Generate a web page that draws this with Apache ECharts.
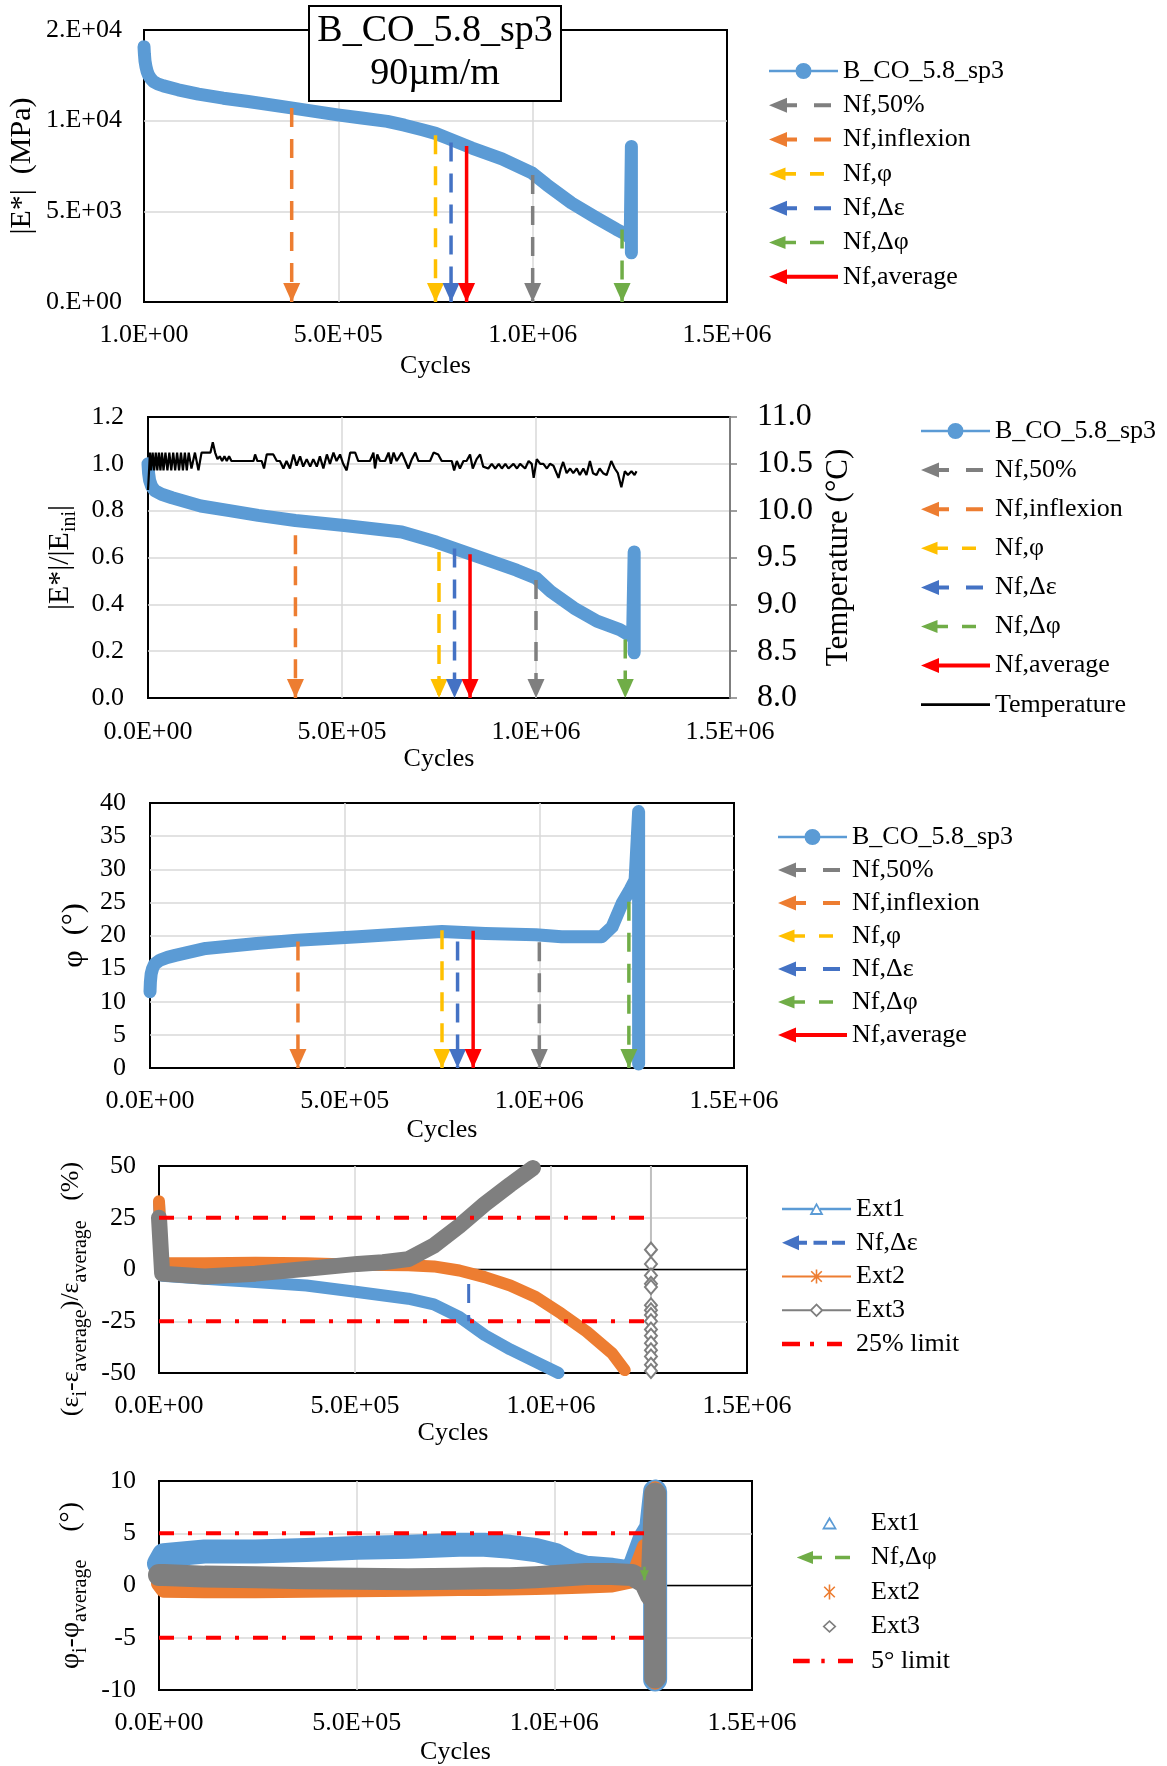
<!DOCTYPE html>
<html><head><meta charset="utf-8">
<script src="https://cdn.jsdelivr.net/npm/echarts@6/dist/echarts.min.js"></script>
<style>html,body{margin:0;padding:0;background:#fff}#c{width:1167px;height:1766px}</style>
</head><body><div id="c"></div>
<script>
// ---------------- DATA ----------------
// Panel 1 : |E*| (MPa) vs cycles
const cycles1 = [0, 1000, 2500, 5000, 8000, 11500, 17000, 24000, 35000, 50000, 88000, 140000, 204000, 268000, 383000, 498000, 560000, 626000, 670000, 716000, 750000, 780000, 844000, 921000, 998000, 1036000, 1100000, 1164000, 1216000, 1241000, 1251000, 1254000, 1254000];
const modulus1 = [14080, 13700, 13300, 12980, 12720, 12520, 12330, 12160, 12030, 11920, 11700, 11460, 11240, 11060, 10690, 10320, 10150, 9960, 9750, 9500, 9300, 9040, 8490, 7890, 7120, 6470, 5460, 4640, 4000, 3720, 3500, 8580, 2710];
// Panel 2 : |E*|/|Eini| and temperature
const cycles2 = [0, 1500, 4000, 9000, 18000, 35000, 62000, 136000, 210000, 284000, 380000, 506000, 654000, 743000, 802000, 876000, 950000, 1001000, 1038000, 1098000, 1157000, 1216000, 1238000, 1249000, 1253000, 1253000];
const ratio2 = [1.0, 0.96, 0.93, 0.905, 0.885, 0.87, 0.855, 0.82, 0.80, 0.78, 0.758, 0.737, 0.709, 0.666, 0.631, 0.589, 0.546, 0.511, 0.455, 0.384, 0.328, 0.292, 0.271, 0.26, 0.624, 0.193];
const tempCycles = [0,3000,5000,8000,12000,16000,20000,24000,28000,32000,36000,40000,45000,50000,55000,60000,65000,70000,75000,80000,85000,90000,95000,100000,105000,112000,121000,130000,138000,161000,167000,173000,179000,185000,191000,197000,203000,209000,215000,272000,276000,282000,293000,299000,306000,323000,332000,340000,349000,357000,366000,375000,383000,392000,400000,409000,418000,426000,435000,443000,452000,461000,469000,478000,486000,495000,503000,512000,521000,534000,542000,572000,581000,585000,591000,598000,611000,620000,626000,633000,641000,654000,663000,671000,680000,689000,697000,727000,736000,748000,757000,783000,789000,796000,804000,813000,821000,830000,837000,847000,856000,864000,877000,886000,895000,904000,912000,921000,929000,942000,951000,959000,972000,981000,989000,994000,1002000,1011000,1019000,1028000,1036000,1045000,1058000,1064000,1070000,1079000,1088000,1096000,1105000,1113000,1122000,1130000,1139000,1147000,1156000,1164000,1173000,1182000,1194000,1203000,1211000,1220000,1229000,1237000,1246000,1254000,1259000];
const tempValues = [10.22,10.45,10.62,10.43,10.62,10.43,10.62,10.43,10.62,10.43,10.62,10.43,10.62,10.43,10.62,10.43,10.62,10.43,10.62,10.43,10.62,10.43,10.62,10.43,10.62,10.45,10.62,10.43,10.62,10.62,10.73,10.62,10.55,10.58,10.53,10.58,10.53,10.58,10.53,10.53,10.60,10.53,10.53,10.45,10.60,10.60,10.53,10.53,10.45,10.53,10.45,10.60,10.48,10.58,10.47,10.55,10.47,10.55,10.47,10.58,10.45,10.60,10.50,10.62,10.53,10.60,10.50,10.43,10.62,10.62,10.53,10.53,10.62,10.45,10.60,10.53,10.53,10.62,10.50,10.62,10.53,10.62,10.53,10.45,10.55,10.62,10.53,10.53,10.62,10.60,10.53,10.53,10.43,10.53,10.45,10.53,10.53,10.60,10.45,10.55,10.60,10.47,10.45,10.50,10.45,10.50,10.45,10.50,10.45,10.50,10.45,10.50,10.45,10.53,10.50,10.35,10.55,10.50,10.50,10.45,10.50,10.48,10.35,10.45,10.52,10.40,10.45,10.40,10.45,10.38,10.45,10.38,10.53,10.40,10.38,10.45,10.40,10.38,10.53,10.45,10.40,10.25,10.42,10.38,10.42,10.38,10.42];
// Panel 3 : phase angle
const cycles3 = [0, 1000, 3000, 6500, 12000, 26000, 45000, 65000, 143000, 274000, 378000, 535000, 665000, 750000, 861000, 991000, 1057000, 1160000, 1187000, 1213000, 1233000, 1246000, 1255000, 1255000];
const phase3 = [11.5, 13.0, 14.2, 15.0, 15.7, 16.3, 16.7, 17.0, 18.05, 18.8, 19.3, 19.8, 20.3, 20.6, 20.3, 20.1, 19.8, 19.8, 21.3, 24.9, 26.9, 28.4, 38.7, 0.6];
// Failure criteria (arrows)
const nfNames = ['Nf,inflexion', 'Nf,φ', 'Nf,Δε', 'Nf,average', 'Nf,50%', 'Nf,Δφ'];
const nfCycles = [380000, 750000, 790000, 830000, 1000000, 1230000];
const nfTop1 = [10700, 9200, 8800, 8600, 7000, 4000];
const nfTop2 = [0.695, 0.624, 0.638, 0.614, 0.504, 0.25];
const nfTop3 = [19.1, 20.8, 19.1, 20.7, 19.0, 25.1];
// Panel 4 : strain deviation (%)
const ext1Cycles4 = [0, 8000, 12000, 116000, 246000, 376000, 506000, 636000, 701000, 766000, 831000, 896000, 961000, 1019000];
const ext1Dev4 = [32, -3, -3.5, -4.5, -6.1, -7.7, -10.9, -14.1, -16.8, -22.9, -31.7, -38.6, -44.6, -50];
const ext2Cycles4 = [0, 8000, 12000, 116000, 246000, 376000, 506000, 636000, 701000, 766000, 831000, 896000, 961000, 1026000, 1091000, 1156000, 1188000];
const ext2Dev4 = [33, 3, 2.8, 3, 3.3, 3, 2.3, 2, 1.5, -0.5, -3.7, -7.7, -13.3, -21.3, -30, -40.5, -48.6];
const ext3Cycles4 = [0, 8000, 12000, 116000, 246000, 376000, 506000, 571000, 636000, 701000, 766000, 831000, 896000, 954000];
const ext3Dev4 = [25, -2, -2, -3.4, -2, 0.3, 2.7, 3.5, 5, 11.5, 21, 31.6, 41, 49];
const ext3EndCycle4 = 1255000;
const ext3EndDev4 = [50, 9.6, 2.7, -2.9, -6.9, -8.5, -17.3, -19.7, -22, -25, -29, -32, -35.6, -39, -42, -46, -49, -50];
const nfDeltaEps4 = [790000, -7, -25];
const limit25 = [25, -25];
const limitEnd4 = 1240000;
// Panel 5 : phase deviation (°)
const cycles5 = [0, 12000, 115000, 244000, 372000, 501000, 630000, 759000, 823000, 888000, 952000, 1004000, 1043000, 1081000, 1146000, 1197000, 1229000, 1245000, 1255000, 1255000];
const ext1Dev5 = [2.1, 2.9, 3.25, 3.25, 3.4, 3.6, 3.7, 3.9, 3.9, 3.7, 3.4, 2.9, 2.1, 1.7, 1.5, 1.2, 4.5, 5.5, 9.0, -9.0];
const ext2Dev5 = [0.2, -0.4, -0.45, -0.45, -0.4, -0.35, -0.3, -0.25, -0.25, -0.2, -0.15, -0.1, -0.05, 0.0, 0.1, 0.5, 3.7, 2.0, 9.2, -9.2];
const ext3Dev5 = [1.0, 1.0, 0.85, 0.8, 0.7, 0.65, 0.6, 0.65, 0.7, 0.7, 0.8, 0.9, 1.0, 1.1, 1.1, 1.0, 0.3, -1.0, 8.8, -8.8];
const nfDeltaPhi5 = [1228000, 1.8, 0.5];
const limit5 = [5, -5];
const limitEnd5 = 1229000;
// Tick labels
const xLabels1 = ['1.0E+00', '5.0E+05', '1.0E+06', '1.5E+06'];
const xLabels = ['0.0E+00', '5.0E+05', '1.0E+06', '1.5E+06'];
const yLabels1 = ['0.E+00', '5.E+03', '1.E+04', '2.E+04'];
const yLabels2 = ['0.0', '0.2', '0.4', '0.6', '0.8', '1.0', '1.2'];
const yLabelsTemp = ['8.0', '8.5', '9.0', '9.5', '10.0', '10.5', '11.0'];

// ---------------- STYLE ----------------
const FONT = '"Liberation Serif", "Times New Roman", serif';
const C = {blue:'#5B9BD5', orange:'#ED7D31', gray:'#7F7F7F', lgray:'#BFBFBF', red:'#FF0000'};
const nfColor = {'Nf,inflexion':'#ED7D31','Nf,φ':'#FFC000','Nf,Δε':'#4472C4','Nf,average':'#FF0000','Nf,50%':'#7F7F7F','Nf,Δφ':'#70AD47'};
const B69 = 'M0,0L0,0ZM69,16L69,16Z';
const B73 = 'M0,0L0,0ZM73,16L73,16Z';
const ICON = {
  data: 'path://' + B69 + 'M0,6.8L26.6,6.8L26.6,9.2L0,9.2ZM42.4,6.8L69,6.8L69,9.2L42.4,9.2ZM26.5,8A8,8,0,1,1,42.5,8A8,8,0,1,1,26.5,8Z',
  arrowDash: 'path://' + B69 + 'M0,8L18,0.5L18,15.5ZM16,6L28,6L28,10L16,10ZM45,6L62,6L62,10L45,10Z',
  arrowDashS: 'path://' + B69 + 'M0,8L16.5,1.5L16.5,14.5ZM14,6.2L27,6.2L27,9.8L14,9.8ZM41,6.2L55,6.2L55,9.8L41,9.8Z',
  arrowSolid: 'path://' + B69 + 'M0,8L18,0.5L18,15.5ZM16,6L69,6L69,10L16,10Z',
  temp: 'path://' + B69 + 'M0,6.6L69,6.6L69,9.4L0,9.4Z',
  limit: 'path://' + B69 + 'M0,5.7L18,5.7L18,10.3L0,10.3ZM28,5.7L32,5.7L32,10.3L28,10.3ZM45,5.7L60,5.7L60,10.3L45,10.3Z',
  ext1L: 'path://' + B69 + 'M0,6.8L31,6.8L31,9.2L0,9.2ZM38,6.8L69,6.8L69,9.2L38,9.2ZM34.5,1.5L41.5,14L27.5,14ZM34.5,5L30.6,12L38.4,12Z',
  nfdeL: 'path://' + B69 + 'M0,8L17,0.5L17,15.5ZM15,6L25,6L25,10L15,10ZM31.5,6L45,6L45,10L31.5,10ZM50,6L63,6L63,10L50,10Z',
  ext2L: 'path://' + B69 + 'M0,7L69,7L69,9L0,9ZM33.7,1L35.3,1L35.3,15L33.7,15ZM29.77,2.13L40.37,12.73L39.23,13.87L28.63,3.27ZM40.37,3.27L29.77,13.87L28.63,12.73L39.23,2.13Z',
  ext3L: 'path://' + B69 + 'M0,7L28.5,7L28.5,9L0,9ZM40.5,7L69,7L69,9L40.5,9ZM34.5,1L41.5,8L34.5,15L27.5,8ZM34.5,3.6L30.1,8L34.5,12.4L38.9,8Z',
  ext1M: 'path://' + B73 + 'M36.5,1.5L44,14.5L29,14.5ZM36.5,5.2L31.9,12.6L41.1,12.6Z',
  nfdp5: 'path://' + B73 + 'M3.7,8L20,1.5L20,14.5ZM18,6.2L29,6.2L29,9.8L18,9.8ZM42,6.2L57,6.2L57,9.8L42,9.8Z',
  ext2M: 'path://' + B73 + 'M35.7,0.5L37.3,0.5L37.3,15.5L35.7,15.5ZM31.77,2.13L42.37,12.73L41.23,13.87L30.63,3.27ZM42.37,3.27L31.77,13.87L30.63,12.73L41.23,2.13Z',
  ext3M: 'path://' + B73 + 'M36.5,1.5L43.5,8L36.5,14.5L29.5,8ZM36.5,3.7L31.9,8L36.5,12.3L41.1,8Z',
  limit5: 'path://' + B73 + 'M0,5.8L16.7,5.8L16.7,10.2L0,10.2ZM28.3,5.8L31.7,5.8L31.7,10.2L28.3,10.2ZM45,5.8L60,5.8L60,10.2L45,10.2Z'
};

const pairs = (xs, ys) => xs.map((x, i) => [x, ys[i]]);
const lbl = (size) => ({fontFamily: FONT, fontSize: size, color: '#000'});
const SPLIT = {show: true, showMinLine: false, showMaxLine: false, lineStyle: {color: '#D9D9D9', width: 1.5}};

function grid(left, top, width, height) {
  return {left, top, width, height, show: true, borderColor: '#000', borderWidth: 2, backgroundColor: 'transparent', containLabel: false, outerBoundsMode: 'none'};
}
function xAx(gi, labels, margin, nameGap) {
  return {type: 'value', gridIndex: gi, min: 0, max: 1500000, interval: 500000,
    name: 'Cycles', nameLocation: 'middle', nameGap, nameTextStyle: lbl(26),
    axisLine: {show: false}, axisTick: {show: false},
    axisLabel: Object.assign(lbl(26), {margin, formatter: (v, i) => labels[i]}),
    splitLine: SPLIT};
}
function yAx(gi, min, max, interval, margin, name, nameGap, nameStyle, labels) {
  const lab = Object.assign(lbl(26), {margin});
  if (labels) lab.formatter = (v, i) => labels[i];
  return {type: 'value', gridIndex: gi, min, max, interval, name, nameLocation: 'middle', nameGap,
    nameTextStyle: nameStyle, axisLine: {show: false}, axisTick: {show: false}, axisLabel: lab, splitLine: SPLIT};
}
const subRich = {sub: {fontFamily: FONT, fontSize: 20, color: '#000', verticalAlign: 'bottom'}};

function band(name, xi, yi, data, color, width, z) {
  return {type: 'line', name, xAxisIndex: xi, yAxisIndex: yi, data, showSymbol: false, symbol: 'none', clip: false,
    color, itemStyle: {color}, lineStyle: {color, width, cap: 'round', join: 'round'}, z: z || 2, silent: true};
}
function arrow(name, xi, yi, x, top, bottom, opts) {
  opts = opts || {};
  const color = nfColor[name];
  const solid = name === 'Nf,average';
  const sz = opts.size || [17, 19];
  const end = opts.noHead ? {value: [x, bottom], symbol: 'none'}
    : {value: [x, bottom], symbol: 'triangle', symbolRotate: 180, symbolSize: sz, symbolOffset: [0, -sz[1] / 2]};
  return {type: 'line', name, xAxisIndex: xi, yAxisIndex: yi, data: [{value: [x, top], symbol: 'none'}, end],
    symbol: 'triangle', showSymbol: true, showAllSymbol: true, clip: false, silent: true, z: 4,
    color, itemStyle: {color, borderWidth: 0},
    lineStyle: {color, width: opts.width || 3.5, type: solid ? 'solid' : [19, 12], cap: 'butt'}};
}
function hline(name, xi, yi, x0, x1, y, color, width, type, z) {
  return {type: 'line', name, xAxisIndex: xi, yAxisIndex: yi, data: [[x0, y], [x1, y]], showSymbol: false, symbol: 'none',
    color, itemStyle: {color}, lineStyle: {color, width, type, cap: 'butt'}, z: z || 3, silent: true};
}

const series = [];
// Panel 1
series.push(band('B_CO_5.8_sp3', 0, 0, pairs(cycles1, modulus1), C.blue, 13));
nfNames.forEach((n, i) => series.push(arrow(n, 0, 0, nfCycles[i], nfTop1[i], 0)));
// Panel 2
series.push(band('B_CO_5.8_sp3', 1, 1, pairs(cycles2, ratio2), C.blue, 13));
nfNames.forEach((n, i) => series.push(arrow(n, 1, 1, nfCycles[i], nfTop2[i], 0)));
series.push({type: 'line', name: 'Temperature', xAxisIndex: 1, yAxisIndex: 2, data: pairs(tempCycles, tempValues), showSymbol: false, symbol: 'none',
  color: '#000', itemStyle: {color: '#000'}, lineStyle: {color: '#000', width: 2.2}, z: 5, silent: true});
// Panel 3
series.push(band('B_CO_5.8_sp3', 2, 3, pairs(cycles3, phase3), C.blue, 13));
nfNames.forEach((n, i) => series.push(arrow(n, 2, 3, nfCycles[i], nfTop3[i], 0)));
// Panel 4
series.push(hline('zero4', 3, 4, 0, 1500000, 0, '#000', 1.5, 'solid', 1));
series.push(band('Ext1', 3, 4, pairs(ext1Cycles4, ext1Dev4), C.blue, 12));
series.push(arrow('Nf,Δε', 3, 4, nfDeltaEps4[0], nfDeltaEps4[1], nfDeltaEps4[2], {noHead: true, width: 3}));
series.push(band('Ext2', 3, 4, pairs(ext2Cycles4, ext2Dev4), C.orange, 12));
series.push(band('Ext3', 3, 4, pairs(ext3Cycles4, ext3Dev4), C.gray, 16));
series.push({type: 'line', name: 'Ext3', xAxisIndex: 3, yAxisIndex: 4, clip: false, silent: true, z: 3,
  data: ext3EndDev4.map((v, i) => (i === 0 || i === ext3EndDev4.length - 1) ? {value: [ext3EndCycle4, v], symbol: 'none'} : [ext3EndCycle4, v]),
  symbol: 'emptyDiamond', symbolSize: [12, 14], showSymbol: true, showAllSymbol: true, color: C.gray,
  itemStyle: {color: C.gray, borderColor: C.gray, borderWidth: 1.5}, lineStyle: {color: C.lgray, width: 2}});
series.push(hline('25% limit', 3, 4, 0, limitEnd4, limit25[0], C.red, 4, [15, 14, 4, 14], 4));
series.push(hline('25% limit', 3, 4, 0, limitEnd4, limit25[1], C.red, 4, [15, 14, 4, 14], 4));
// Panel 5
series.push(hline('zero5', 4, 5, 0, 1500000, 0, '#000', 1.5, 'solid', 1));
series.push(band('Ext1', 4, 5, pairs(cycles5, ext1Dev5), C.blue, 24));
series.push(band('Ext2', 4, 5, pairs(cycles5, ext2Dev5), C.orange, 16));
series.push(band('Ext3', 4, 5, pairs(cycles5, ext3Dev5), C.gray, 22));
series.push(arrow('Nf,Δφ', 4, 5, nfDeltaPhi5[0], nfDeltaPhi5[1], nfDeltaPhi5[2], {size: [9, 10], width: 2.5}));
series.push(hline('5° limit', 4, 5, 0, limitEnd5, limit5[0], C.red, 4, [15, 14, 4, 14], 4));
series.push(hline('5° limit', 4, 5, 0, limitEnd5, limit5[1], C.red, 4, [15, 14, 4, 14], 4));

function legend(left, top, gap, items, w) {
  return {orient: 'vertical', left, top, padding: 0, itemWidth: w || 69, itemHeight: 16, itemGap: gap, selectedMode: false,
    itemStyle: {borderWidth: 0}, textStyle: {fontFamily: FONT, fontSize: 26, color: '#000', lineHeight: 28},
    data: items.map(([name, icon]) => ({name, icon}))};
}
const nfLegend = [['B_CO_5.8_sp3', ICON.data], ['Nf,50%', ICON.arrowDash], ['Nf,inflexion', ICON.arrowDash], ['Nf,φ', ICON.arrowDashS], ['Nf,Δε', ICON.arrowDash], ['Nf,Δφ', ICON.arrowDashS], ['Nf,average', ICON.arrowSolid]];

const option = {
  animation: false,
  backgroundColor: '#fff',
  textStyle: {fontFamily: FONT},
  title: {text: 'B_CO_5.8_sp3\n90µm/m', left: 426, top: 6, textAlign: 'center', padding: [4, 9, 5, 9],
    borderColor: '#000', borderWidth: 2, backgroundColor: '#fff',
    textStyle: {fontFamily: FONT, fontSize: 38, lineHeight: 43, fontWeight: 'normal', color: '#000'}},
  grid: [grid(144, 30, 583, 272), grid(148, 417, 582, 281), grid(150, 803, 584, 265), grid(159, 1166, 588, 207), grid(159, 1481, 593, 209)],
  xAxis: [xAx(0, xLabels1, 20, 51), xAx(1, xLabels, 21, 44), xAx(2, xLabels, 20, 49), xAx(3, xLabels, 20, 47), xAx(4, xLabels, 20, 49)],
  yAxis: [
    yAx(0, 0, 15000, 5000, 22, '|E*|  (MPa)', 107, lbl(30), yLabels1),
    yAx(1, 0, 1.2, 0.2, 24, '|E*|/|E{sub|ini}|', 68, Object.assign(lbl(30), {lineHeight: 40, rich: subRich}), yLabels2),
    Object.assign(yAx(1, 8, 11, 0.5, 27, 'Temperature (°C)', 93, lbl(31), yLabelsTemp), {position: 'right', splitLine: {show: false},
      axisLine: {show: true, lineStyle: {color: '#7F7F7F', width: 2}}, axisTick: {show: true, length: 7, lineStyle: {color: '#7F7F7F', width: 1.5}},
      axisLabel: {margin: 27, fontFamily: FONT, fontSize: 32, color: '#000', formatter: (v, i) => yLabelsTemp[i]}}),
    yAx(2, 0, 40, 5, 24, 'φ  (°)', 57, lbl(30)),
    yAx(3, -50, 50, 25, 23, '(ε{sub|i}-ε{sub|average})/ε{sub|average}   (%)      ', 62, Object.assign(lbl(26), {lineHeight: 38, rich: subRich})),
    yAx(4, -10, 10, 5, 23, 'φ{sub|i}-φ{sub|average}    (°)', 60, Object.assign(lbl(28), {lineHeight: 40, rich: subRich}))
  ],
  legend: [
    legend(769, 57, 6.3, nfLegend),
    legend(921, 417, 11.1, nfLegend.concat([['Temperature', ICON.temp]])),
    legend(778, 823, 5, nfLegend),
    legend(782, 1195, 5.75, [['Ext1', ICON.ext1L], ['Nf,Δε', ICON.nfdeL], ['Ext2', ICON.ext2L], ['Ext3', ICON.ext3L], ['25% limit', ICON.limit]]),
    legend(793, 1509, 6.5, [['Ext1', ICON.ext1M], ['Nf,Δφ', ICON.nfdp5], ['Ext2', ICON.ext2M], ['Ext3', ICON.ext3M], ['5° limit', ICON.limit5]], 73)
  ],
  series
};
const chart = echarts.init(document.getElementById('c'), null, {renderer: 'canvas', width: 1167, height: 1766});
chart.setOption(option);
</script>
</body></html>
